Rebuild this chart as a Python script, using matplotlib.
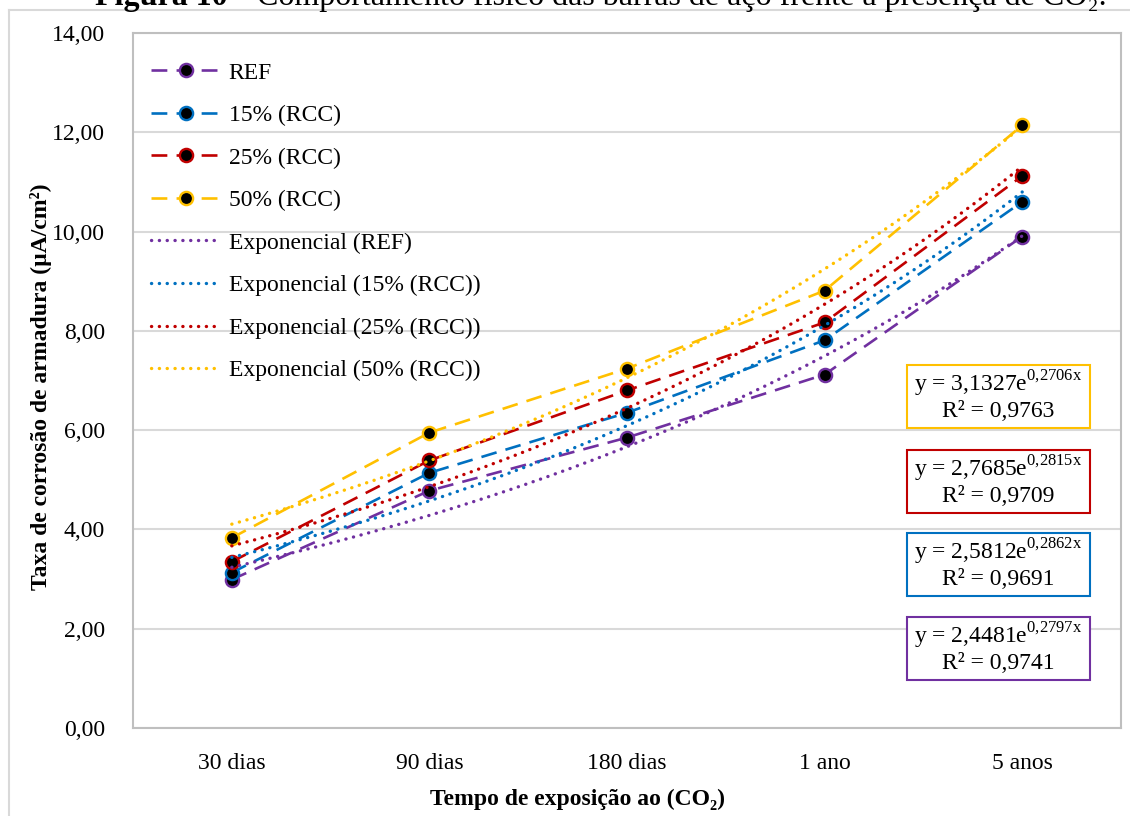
import numpy as np
import matplotlib
matplotlib.use("Agg")
import matplotlib.pyplot as plt
from matplotlib.lines import Line2D
from matplotlib.patches import Rectangle

plt.rcParams['font.family'] = ['Liberation Serif', 'DejaVu Serif']
plt.rcParams['mathtext.fontset'] = 'custom'
plt.rcParams['mathtext.rm'] = 'Liberation Serif'

# dados
categorias = ['30 dias', '90 dias', '180 dias', '1 ano', '5 anos']
ref = [2.99, 4.78, 5.85, 7.12, 9.90]
rcc15 = [3.13, 5.14, 6.35, 7.81, 10.60]
rcc25 = [3.35, 5.39, 6.80, 8.17, 11.12]
rcc50 = [3.83, 5.95, 7.24, 8.81, 12.14]

nomes = ['REF', '15% (RCC)', '25% (RCC)', '50% (RCC)']
cores = ['#7030A0', '#0070C0', '#C00000', '#FFC000']

# coeficientes da linha de tendencia exponencial (y = a e^(bx))
coef_a = [2.4481, 2.5812, 2.7685, 3.1327]
coef_b = [0.2797, 0.2862, 0.2815, 0.2706]
r2 = [0.9741, 0.9691, 0.9709, 0.9763]

series = [ref, rcc15, rcc25, rcc50]
x = np.arange(1, len(categorias) + 1)

FS = 17
fig = plt.figure(figsize=(11.3, 8.16), dpi=100)
W, H = 1130, 816
ax = fig.add_axes([133 / W, 1 - 728 / H, (1121 - 133) / W, (728 - 33) / H])

for vals, nome, cor in zip(series, nomes, cores):
    ax.plot(x, vals, color=cor, lw=1.9, linestyle=(0, (6, 3.5)),
            marker='o', markersize=9.5, markerfacecolor='black',
            markeredgecolor=cor, markeredgewidth=1.7, label=nome, zorder=3)

xt = np.linspace(1, 5, 200)
for a, b, nome, cor in zip(coef_a, coef_b, nomes, cores):
    ax.plot(xt, a * np.exp(b * xt), color=cor, lw=2.4,
            linestyle=(0, (0.05, 2.3)), dash_capstyle='round',
            label='Exponencial ({})'.format(nome), zorder=4)

ax.set_xlim(0.5, 5.5)
ax.set_ylim(0, 14)
ax.set_xticks(x)
ax.set_xticklabels(categorias, fontsize=FS)
yt = np.arange(0, 15, 2)
ax.set_yticks(yt)
ax.set_yticklabels(['{:.2f}'.format(v).replace('.', ',') for v in yt], fontsize=FS)
ax.tick_params(length=0)
ax.tick_params(axis='y', pad=20)
ax.tick_params(axis='x', pad=18)
ax.grid(axis='y', color='#D9D9D9', lw=1.5)
ax.set_axisbelow(True)
for s in ax.spines.values():
    s.set_color('#BFBFBF')
    s.set_linewidth(1.5)

fig.text(41 / W, 1 - 387 / H, 'Taxa de corrosão de armadura (µA/cm²)', fontsize=FS,
         fontweight='bold', rotation=90, ha='center', va='center')
fig.text(577 / W, 1 - 799 / H, 'Tempo de exposição ao (CO₂)', fontsize=FS,
         fontweight='bold', ha='center', va='center')

leg = ax.legend(loc='upper left', bbox_to_anchor=(18 / 988, 1 - 29 / 695), frameon=False,
                fontsize=FS, handlelength=2.95, handletextpad=0.34,
                labelspacing=0.89, borderaxespad=0.0, borderpad=0.0)

# caixas das equacoes
box_bottom = [0.0691, 0.1899, 0.3094, 0.4317]
bx0, bx1, bh = 0.7834, 0.9686, 0.09
for a, b, r, cor, yb in zip(coef_a, coef_b, r2, cores, box_bottom):
    ax.add_patch(Rectangle((bx0, yb), bx1 - bx0, bh, transform=ax.transAxes,
                           facecolor='white', edgecolor=cor, lw=1.5, zorder=5))
    sa = '{:.4f}'.format(a).replace('.', ',')
    sb = '{:.4f}'.format(b).replace('.', '{,}')
    ax.text((bx0 + bx1) / 2, yb + bh * 0.70,
            'y = ' + sa + 'e$^{\\mathregular{' + sb + 'x}}$',
            transform=ax.transAxes, ha='center', va='center', fontsize=FS, zorder=6)
    ax.text((bx0 + bx1) / 2, yb + bh * 0.27,
            'R² = ' + '{:.4f}'.format(r).replace('.', ','),
            transform=ax.transAxes, ha='center', va='center', fontsize=FS, zorder=6)

# moldura externa
fig.add_artist(Line2D([9 / W, 9 / W], [0, 1 - 10 / H], color='#D9D9D9', lw=1.5))
fig.add_artist(Line2D([9 / W, 1], [1 - 10 / H, 1 - 10 / H], color='#D9D9D9', lw=1.5))

# titulo (cortado no topo)
t1 = fig.text(95 / W, 1 - 5 / H, 'Figura 10', ha='left', va='baseline',
              fontsize=23, fontweight='bold')
fig.canvas.draw()
bb = t1.get_window_extent()
fig.text((bb.x1 + 6) / W, 1 - 5 / H,
         '– Comportamento físico das barras de aço frente à presença de CO₂.',
         ha='left', va='baseline', fontsize=23)

fig.savefig('out.png', dpi=100)
